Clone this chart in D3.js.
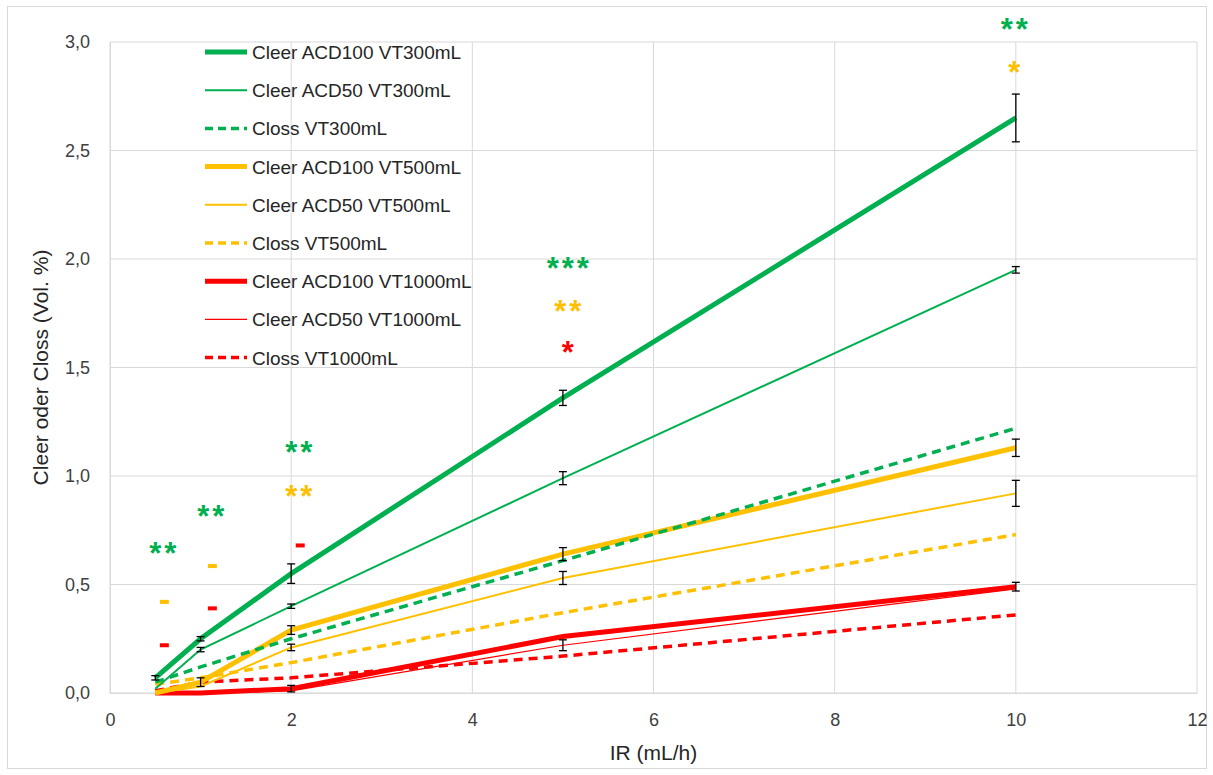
<!DOCTYPE html>
<html>
<head>
<meta charset="utf-8">
<script src="https://cdn.jsdelivr.net/npm/d3@7"></script>
<style>
    body { margin: 0; background: #fff; }
    svg { font-family: 'Liberation Sans', Arial, sans-serif; }
</style>
</head>
<body>
<svg id="chart" width="1213" height="775"></svg>
<script>
const GREEN = '#00b050'
const YELLOW = '#ffc000'
const RED = '#ff0000'

const xValues = [0.5, 1, 2, 5, 10]
const xTicks = [0, 2, 4, 6, 8, 10, 12]
const yTicks = [0, 0.5, 1, 1.5, 2, 2.5, 3]

const seriesNames = [
    'Cleer ACD100 VT300mL', 'Cleer ACD50 VT300mL', 'Closs VT300mL',
    'Cleer ACD100 VT500mL', 'Cleer ACD50 VT500mL', 'Closs VT500mL',
    'Cleer ACD100 VT1000mL', 'Cleer ACD50 VT1000mL', 'Closs VT1000mL'
]
const seriesColors = [GREEN, GREEN, GREEN, YELLOW, YELLOW, YELLOW, RED, RED, RED]
const seriesKinds = ['thick', 'thin', 'dash', 'thick', 'thin', 'dash', 'thick', 'hair', 'dash']

const green100 = [0.07, 0.25, 0.55, 1.36, 2.65]
const green50 = [0.02, 0.20, 0.40, 0.99, 1.95]
const greenLoss = [0.05, 0.12, 0.25, 0.61, 1.22]
const yellow100 = [0.00, 0.05, 0.29, 0.64, 1.13]
const yellow50 = [0.00, 0.03, 0.21, 0.53, 0.92]
const yellowLoss = [0.04, 0.07, 0.14, 0.37, 0.73]
const red100 = [0.00, 0.00, 0.02, 0.26, 0.49]
const red50 = [0.00, 0.00, 0.01, 0.22, 0.48]
const redLoss = [0.01, 0.05, 0.07, 0.17, 0.36]

// +/- error per point, null = no bar
const green100Err = [0.01, 0.01, 0.045, 0.035, 0.11]
const green50Err = [null, 0.01, 0.01, 0.03, 0.015]
const yellow100Err = [null, 0.02, 0.02, 0.03, 0.04]
const yellow50Err = [null, null, 0.015, 0.03, 0.06]
const red100Err = [null, null, 0.015, null, 0.02]
const red50Err = [null, null, null, 0.025, null]

const seriesValues = [green100, green50, greenLoss, yellow100, yellow50, yellowLoss, red100, red50, redLoss]
const seriesErrors = [green100Err, green50Err, null, yellow100Err, yellow50Err, null, red100Err, red50Err, null]

// significance marks
const markX = [0.6, 0.6, 0.6, 1.13, 1.13, 1.13, 2.1, 2.1, 2.1, 5.07, 5.07, 5.07, 10.0, 10.0]
const markY = [0.645, 0.42, 0.22, 0.815, 0.585, 0.39, 1.11, 0.91, 0.68, 1.96, 1.76, 1.57, 3.06, 2.86]
const markText = ['**', '-', '-', '**', '-', '-', '**', '**', '-', '***', '**', '*', '**', '*']
const markColors = [GREEN, YELLOW, RED, GREEN, YELLOW, RED, GREEN, YELLOW, RED, GREEN, YELLOW, RED, GREEN, YELLOW]

const styles = {
    thick: { width: 5, dash: null },
    thin: { width: 2, dash: null },
    hair: { width: 1.2, dash: null },
    dash: { width: 3.5, dash: '9,6' }
}

const createChart = () => {
    let margin = { top: 42, right: 16, bottom: 82, left: 110 }
    let w = 1213, h = 775
    let svg = d3.select('#chart')

    svg.append('rect')
        .attr('x', 7.5).attr('y', 6.5)
        .attr('width', 1199).attr('height', 762)
        .style('fill', 'none').style('stroke', '#d9d9d9')

    let x = d3.scaleLinear().domain([0, 12]).range([margin.left, w - margin.right])
    let y = d3.scaleLinear().domain([0, 3]).range([h - margin.bottom, margin.top])

    // gridlines
    svg.append('g').selectAll('line')
        .data(xTicks)
        .enter().append('line')
        .attr('x1', d => x(d)).attr('x2', d => x(d))
        .attr('y1', y(0)).attr('y2', y(3))
        .style('stroke', '#d9d9d9').style('stroke-width', 1)
    svg.append('g').selectAll('line')
        .data(yTicks)
        .enter().append('line')
        .attr('x1', x(0)).attr('x2', x(12))
        .attr('y1', d => y(d)).attr('y2', d => y(d))
        .style('stroke', '#d9d9d9').style('stroke-width', 1)

    let fmt = d => d3.format('.1f')(d).replace('.', ',')

    let xAxis = svg.append('g')
        .attr('transform', `translate(0,${y(0)})`)
        .call(d3.axisBottom(x).tickValues(xTicks).tickSize(0).tickPadding(20))
    let yAxis = svg.append('g')
        .attr('transform', `translate(${x(0)},0)`)
        .call(d3.axisLeft(y).tickValues(yTicks).tickFormat(fmt).tickSize(0).tickPadding(20))
    ;[xAxis, yAxis].forEach(a => {
        a.select('.domain').style('stroke', '#d9d9d9')
        a.selectAll('text')
            .style('font-size', '18px')
            .style('fill', '#404040')
            .style('font-family', "'Liberation Sans', Arial, sans-serif")
    })

    svg.append('text')
        .attr('x', x(6)).attr('y', 760)
        .attr('text-anchor', 'middle')
        .style('font-size', '21px').style('fill', '#262626')
        .text('IR (mL/h)')
    svg.append('text')
        .attr('transform', `translate(48,${y(1.5)}) rotate(-90)`)
        .attr('text-anchor', 'middle')
        .style('font-size', '21px').style('fill', '#262626')
        .text('Cleer oder Closs (Vol. %)')

    let line = d3.line()
        .x((d, i) => x(xValues[i]))
        .y(d => y(d))

    // draw from last to first so the thick green sits on top
    let order = d3.range(seriesValues.length).reverse()
    order.forEach(k => {
        let st = styles[seriesKinds[k]]
        svg.append('path')
            .datum(seriesValues[k])
            .attr('d', line)
            .style('fill', 'none')
            .style('stroke', seriesColors[k])
            .style('stroke-width', st.width)
            .style('stroke-dasharray', st.dash)
    })

    // error bars
    seriesErrors.forEach((errs, k) => {
        if (!errs) return
        errs.forEach((e, i) => {
            if (e === null) return
            let cx = x(xValues[i])
            let v = seriesValues[k][i]
            let g = svg.append('g').style('stroke', '#000').style('stroke-width', 1.3)
            g.append('line').attr('x1', cx).attr('x2', cx).attr('y1', y(v - e)).attr('y2', y(v + e))
            g.append('line').attr('x1', cx - 4).attr('x2', cx + 4).attr('y1', y(v - e)).attr('y2', y(v - e))
            g.append('line').attr('x1', cx - 4).attr('x2', cx + 4).attr('y1', y(v + e)).attr('y2', y(v + e))
        })
    })

    // significance marks
    markText.forEach((t, i) => {
        let px = x(markX[i]), py = y(markY[i])
        if (t === '-') {
            svg.append('rect')
                .attr('x', px - 4.5).attr('y', py - 2)
                .attr('width', 9).attr('height', 4)
                .style('fill', markColors[i])
        } else {
            svg.append('text')
                .attr('x', px).attr('y', py + 11)
                .attr('text-anchor', 'middle')
                .style('font-size', '31px')
                .style('font-weight', 'bold')
                .style('letter-spacing', '3px')
                .style('fill', markColors[i])
                .text(t)
        }
    })

    // legend
    let legend = svg.append('g')
    seriesNames.forEach((name, k) => {
        let ly = 52 + k * 38.2
        let st = styles[seriesKinds[k]]
        legend.append('line')
            .attr('x1', 205).attr('x2', 247)
            .attr('y1', ly).attr('y2', ly)
            .style('stroke', seriesColors[k])
            .style('stroke-width', st.width)
            .style('stroke-dasharray', st.dash ? '8,5' : null)
        legend.append('text')
            .attr('x', 252).attr('y', ly + 7)
            .style('font-size', '19px').style('fill', '#262626')
            .text(name)
    })
}

createChart()
</script>
</body>
</html>
